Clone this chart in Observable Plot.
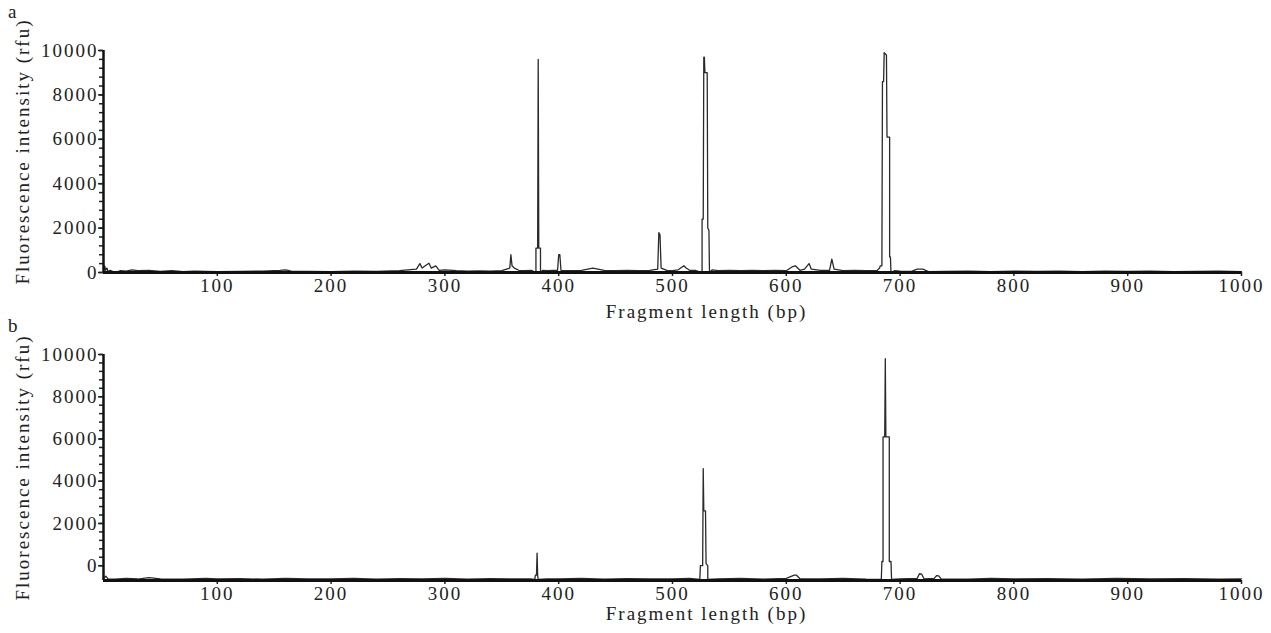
<!DOCTYPE html>
<html><head><meta charset="utf-8">
<script src="https://cdn.jsdelivr.net/npm/d3@7"></script>
<script src="https://cdn.jsdelivr.net/npm/@observablehq/plot@0.6"></script>
<style>
body{margin:0;background:#fff;width:1271px;height:633px;overflow:hidden;font-family:"Liberation Serif",serif;}
#wrap{position:relative;width:1271px;height:633px;}
.panel{position:absolute;left:0;}
.panel svg{overflow:visible;}
.pl{position:absolute;left:8px;font-size:19px;color:#222;z-index:2;}
</style></head><body>
<div id="wrap">
<div id="pa" class="panel" style="top:0"></div>
<div id="pb" class="panel" style="top:320px"></div>
<div class="pl" style="top:1px">a</div>
<div class="pl" style="top:315px">b</div>
</div>
<script>
// Panel a: fragment length (bp) and fluorescence intensity (rfu)
const aBp = [0,1,2,3,4,6,10,15,20,25,30,40,50,60,70,80,100,120,140,155,160,165,180,200,220,240,260,275,278,280,284,286,288,292,295,300,310,320,330,340,350,357,358,359,361,365,370,376,380,380,381.5,382,382.5,384,384,386,390,395,399,400,401,402,410,420,430,440,450,460,470,480,487,488,489,490,495,500,505,510,512,515,520,526,526,527,527.5,528,528.5,530.5,531,532,532.5,535,540,550,560,570,580,590,600,605,608,612,616,620,622,630,638,640,642,650,660,670,680,682,682.5,684,684.5,685.5,686,688,688.5,690.8,690.8,691.5,692,695,700,710,715,720,725,740,760,780,800,820,840,860,880,900,920,940,960,980,1000];
const aRfu = [0,300,100,200,50,100,0,80,60,120,80,100,50,80,40,60,40,50,60,100,120,60,50,40,60,50,80,150,400,200,350,420,200,300,100,120,80,60,70,60,80,200,800,300,200,100,80,100,0,1100,1100,9600,1100,1100,0,100,80,100,100,800,800,100,80,100,200,100,80,100,80,100,150,1800,1700,200,100,80,120,300,200,100,100,0,2400,2400,9700,9700,9000,9000,2000,1900,0,120,80,100,80,100,80,100,80,250,300,100,150,400,150,100,100,600,150,80,100,80,100,200,300,300,8600,8600,9900,9800,6100,6100,700,700,0,80,60,50,150,150,40,50,60,40,60,50,60,40,60,50,60,40,50,60,40];

// Panel b
const bBp = [0,2,4,10,20,30,40,50,70,90,100,120,140,160,180,200,220,240,260,280,300,320,340,360,375,379,379.5,380.5,381,381.5,382,390,400,420,440,460,480,500,515,524,524.5,526.5,527,527.5,529,529.5,531,531,540,560,580,600,607,609,612,630,650,670,683.5,684,685,685,686.5,687,687.5,690.5,690.5,692,692.5,700,715,717,719,721,730,732,734,736,760,780,800,830,860,890,920,950,980,1000];
const bRfu = [-600,-500,-620,-640,-600,-630,-560,-620,-640,-600,-630,-610,-640,-600,-630,-620,-600,-640,-610,-620,-600,-640,-610,-630,-620,-650,-450,-450,600,-450,-650,-620,-630,-600,-640,-610,-630,-620,-600,-650,0,0,4600,2600,2600,100,0,-650,-620,-600,-640,-600,-450,-450,-620,-630,-600,-640,-650,200,200,6100,6100,9800,6100,6100,200,200,-650,-620,-600,-380,-400,-620,-600,-470,-480,-620,-640,-600,-630,-610,-640,-600,-630,-610,-640,-620];

const xTicks = [100,200,300,400,500,600,700,800,900,1000];
const yTicks = [0,2000,4000,6000,8000,10000];
const yMinor = d3.range(0, 10001, 400);
const yLabel = "Fluorescence intensity (rfu)";
const xLabel = "Fragment length (bp)";

function panel(bp, rfu, yDomain, h, mt, mb, xLabDy, yLabDy) {
  return Plot.plot({
    width: 1271, height: h,
    marginLeft: 103, marginRight: 30, marginTop: mt, marginBottom: mb,
    x: {domain: [0, 1000]},
    y: {domain: yDomain},
    style: {fontFamily: "Liberation Serif", fontSize: "19px", background: "transparent", color: "#222", letterSpacing: "2px", overflow: "visible"},
    marks: [
      Plot.line(rfu, {x: bp, y: rfu, stroke: "#2a2a2a", strokeWidth: 1.3}),
      Plot.axisY({ticks: yMinor, tickSize: 4, text: null, label: null, strokeWidth: 1.5}),
      Plot.axisY({ticks: yTicks, tickSize: 5, tickPadding: 0, tickFormat: "d", strokeWidth: 1.5, label: null}),
      Plot.axisX({ticks: xTicks, tickSize: 4, tickPadding: 2, tickFormat: "d", strokeWidth: 1.5, label: null}),
      Plot.text([yLabel], {text: d => d, frameAnchor: "left", rotate: -90, dx: -81, dy: yLabDy, textAnchor: "middle", lineAnchor: "middle", fontSize: 19}),
      Plot.text([xLabel], {text: d => d, frameAnchor: "bottom", dx: 34, dy: xLabDy, textAnchor: "middle", lineAnchor: "middle", fontSize: 19}),
      Plot.ruleX([0], {stroke: "#111", strokeWidth: 2.5}),
      Plot.ruleY([yDomain[0]], {stroke: "#111", strokeWidth: 3})
    ]
  });
}

document.getElementById("pa").append(panel(aBp, aRfu, [0, 10000], 330, 50, 58, 39, -10));
document.getElementById("pb").append(panel(bBp, bRfu, [-700, 10000], 313, 34, 53, 33, 0));
</script>
</body></html>
